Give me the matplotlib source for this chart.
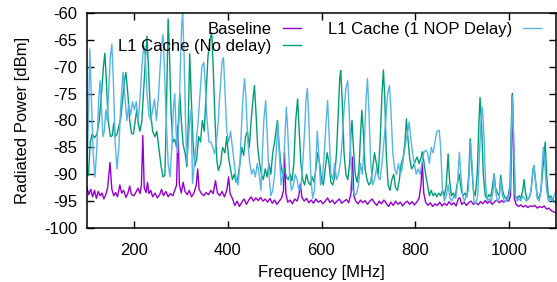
import matplotlib
matplotlib.use("Agg")
import matplotlib.pyplot as plt

plt.rcParams['font.family'] = ['Liberation Sans', 'DejaVu Sans']
plt.rcParams['font.size'] = 12
plt.rcParams['axes.unicode_minus'] = False

# Baseline (frequency MHz, dBm)
baseline = [
    (100, -92.5), (104, -93.8), (108, -92.8), (112, -94.2), (116, -93.0), (120, -94.5),
    (124, -93.2), (128, -94.0), (132, -93.5), (136, -94.6), (140, -93.8), (144, -92.5),
    (149, -87.8), (153, -92.8), (157, -94.0), (161, -93.4), (165, -94.2), (170, -92.0),
    (174, -93.5), (178, -93.0), (183, -94.3), (187, -93.6), (191, -92.2), (195, -93.8),
    (200, -94.0), (205, -93.2), (209, -92.6), (213, -93.6), (216, -92.0), (219, -82.8),
    (222, -92.5), (226, -93.4), (229, -91.5), (232, -93.6), (236, -93.0), (240, -94.2),
    (245, -93.5), (250, -94.4), (255, -93.8), (259, -92.8), (263, -94.0), (268, -93.2),
    (273, -94.2), (278, -93.6), (283, -94.0), (287, -93.0), (291, -92.0), (294, -81.0),
    (297, -91.8), (301, -93.5), (305, -91.5), (309, -93.2), (314, -93.8), (318, -93.0),
    (323, -94.2), (328, -93.5), (333, -92.0), (336, -89.0), (339, -92.8), (344, -93.6),
    (349, -94.0), (354, -93.4), (359, -93.8), (364, -93.0), (369, -93.6), (374, -91.2),
    (378, -93.5), (383, -94.0), (388, -93.2), (393, -94.2), (398, -93.0), (402, -90.5),
    (405, -93.6), (410, -94.5), (415, -95.8), (420, -95.0), (425, -96.0), (430, -95.2),
    (435, -94.6), (440, -95.6), (445, -94.8), (450, -94.2), (455, -95.0), (460, -94.4),
    (465, -94.9), (470, -94.3), (475, -95.0), (480, -94.6), (485, -95.2), (490, -94.5),
    (495, -95.4), (500, -94.8), (505, -95.6), (510, -95.0), (515, -94.4), (519, -93.0),
    (521, -86.0), (524, -93.6), (528, -95.2), (533, -94.8), (538, -95.5), (543, -94.6),
    (548, -95.0), (552, -93.8), (555, -91.8), (558, -94.2), (563, -95.0), (568, -94.5),
    (573, -95.3), (578, -94.8), (583, -95.4), (588, -94.6), (593, -95.2), (598, -94.9),
    (603, -95.5), (608, -95.0), (613, -94.4), (618, -95.3), (623, -94.8), (628, -95.5),
    (633, -95.0), (638, -94.6), (643, -95.4), (648, -95.0), (653, -94.7), (658, -95.3),
    (663, -93.5), (666, -86.8), (669, -94.0), (673, -95.0), (678, -95.5), (683, -94.8),
    (688, -95.3), (693, -94.9), (698, -95.6), (703, -95.0), (708, -94.6), (713, -95.3),
    (718, -95.8), (723, -95.0), (728, -95.5), (733, -94.8), (738, -95.4), (743, -96.0),
    (748, -95.2), (753, -95.8), (758, -95.0), (763, -95.6), (768, -95.2), (773, -95.9),
    (778, -95.3), (783, -95.0), (788, -95.6), (793, -95.1), (798, -95.7), (803, -95.2),
    (808, -94.5), (812, -92.0), (815, -88.0), (818, -93.5), (822, -95.2), (827, -95.8),
    (832, -95.3), (837, -96.0), (842, -95.5), (847, -95.8), (852, -95.2), (857, -95.9),
    (862, -95.4), (867, -95.8), (872, -95.1), (877, -95.7), (882, -95.3), (887, -95.9),
    (892, -94.5), (895, -94.4), (899, -95.6), (904, -95.2), (909, -95.8), (914, -95.3),
    (919, -95.0), (924, -95.6), (929, -95.2), (934, -95.7), (939, -95.1), (944, -95.5),
    (949, -94.9), (954, -95.4), (959, -95.0), (964, -95.6), (969, -95.1), (974, -94.8),
    (979, -95.3), (984, -94.9), (989, -95.2), (994, -94.8), (999, -95.0), (1003, -94.0),
    (1007, -75.0), (1011, -94.5), (1015, -95.6), (1020, -96.0), (1025, -95.7), (1030, -96.1),
    (1035, -95.8), (1040, -96.2), (1045, -95.9), (1050, -96.0), (1055, -95.8), (1060, -96.3),
    (1065, -96.0), (1070, -96.2), (1075, -95.9), (1080, -96.5), (1085, -96.3), (1090, -96.8),
    (1095, -97.0), (1100, -97.2),
]

# L1 Cache (No delay)
no_delay = [
    (100, -89.5), (103, -90.2), (107, -84), (111, -82.5), (116, -83.2), (121, -82.6),
    (126, -80), (131, -75), (135, -70), (138, -67.5), (141, -72), (145, -80), (150, -83),
    (154, -82.8), (157, -80.5), (160, -83), (164, -82.6), (168, -81), (172, -79.5),
    (176, -76), (180, -72.5), (183, -71.1), (187, -75), (191, -80), (195, -82.4),
    (199, -82.5), (203, -80), (206, -78), (209, -80.5), (213, -82), (217, -80), (221, -74),
    (225, -68), (228, -64.3), (231, -70), (235, -78), (240, -82), (245, -83), (249, -82),
    (253, -85), (258, -88.5), (262, -90.5), (266, -90.2), (269, -80), (271, -70),
    (273, -61.1), (276, -68), (279, -78), (283, -84), (287, -83.5), (291, -85), (295, -80),
    (298, -75), (301, -80), (305, -84.5), (309, -86), (313, -88.6), (316, -80), (319, -67.6),
    (322, -75), (326, -84), (330, -88.5), (334, -87), (338, -83), (342, -84), (346, -80),
    (350, -82), (354, -75), (358, -68), (362, -65), (366, -63.7), (369, -70), (373, -80),
    (377, -87.5), (380, -89.3), (385, -88), (389, -85), (394, -86), (398, -83), (402, -87),
    (406, -89), (410, -91), (414, -90), (418, -91.5), (422, -90.5), (426, -88), (430, -85),
    (434, -86.5), (438, -83), (442, -82), (446, -85), (450, -80), (454, -76), (457, -73.5),
    (460, -78), (464, -85), (468, -88), (472, -90), (476, -91), (480, -89), (484, -90.5),
    (488, -88), (492, -90), (496, -86), (500, -84), (503, -82), (506, -80), (509, -84),
    (513, -88), (517, -90), (521, -89), (525, -90.5), (529, -91), (533, -90), (537, -91.2),
    (541, -88), (545, -80), (549, -76), (552, -81), (556, -88), (560, -91), (564, -92),
    (568, -90), (572, -91.5), (576, -92), (580, -90.5), (584, -91.5), (588, -89), (592, -86),
    (596, -88), (600, -91), (604, -92), (608, -89), (612, -86), (616, -88), (620, -91.5),
    (624, -92), (628, -90.5), (632, -86), (636, -78), (639, -72), (641, -70.7), (644, -76),
    (648, -86), (652, -90), (656, -91), (660, -88), (663, -82), (665, -80), (668, -85),
    (672, -90), (676, -91.5), (680, -89), (683, -83), (686, -78.1), (689, -82), (693, -89),
    (697, -91), (701, -92), (705, -91.5), (709, -89), (713, -86), (717, -88), (721, -90),
    (725, -84), (729, -75), (732, -70.6), (735, -76), (738, -86), (742, -92), (746, -93),
    (750, -91), (754, -90), (758, -92.5), (762, -93), (766, -91), (770, -88), (774, -87),
    (778, -84), (781, -79.7), (784, -83), (788, -87), (792, -89), (796, -88.5), (800, -87.5),
    (804, -86.8), (808, -88), (812, -87), (815, -85.8), (818, -87.5), (822, -90), (826, -92),
    (830, -94), (834, -93), (838, -94), (842, -93.5), (846, -94.2), (850, -93.5), (854, -94),
    (858, -93), (862, -94), (866, -92), (870, -86.2), (873, -91), (877, -94), (881, -93.5),
    (885, -94.2), (889, -92), (894, -90), (898, -93), (902, -94), (906, -93.5), (910, -94.2),
    (914, -90), (917, -83.4), (920, -88), (924, -93), (928, -94), (932, -90), (935, -82),
    (938, -75.7), (941, -80), (945, -90), (949, -94), (953, -94.5), (957, -93.8), (961, -94.2),
    (965, -92), (968, -89.9), (971, -92.5), (975, -93.5), (979, -94), (982, -90.2), (986, -93),
    (990, -94.2), (994, -94.5), (998, -94), (1002, -92), (1005, -80), (1007, -75.2),
    (1010, -85), (1013, -94), (1017, -94.5), (1021, -94), (1025, -94.5), (1029, -93),
    (1032, -91), (1035, -93.5), (1039, -94.8), (1043, -94.3), (1047, -93), (1051, -89),
    (1053, -88.5), (1056, -91), (1060, -94), (1064, -94.5), (1068, -93), (1072, -89),
    (1077, -84), (1080, -90), (1084, -94.5), (1088, -94), (1092, -94.5), (1096, -95),
    (1100, -95.5),
]

# L1 Cache (1 NOP Delay)
one_nop = [
    (100, -90), (103, -80), (106, -66.7), (109, -75), (113, -86), (117, -90.5), (121, -85),
    (125, -76), (128, -72.6), (131, -78), (134, -83), (137, -82), (140, -78), (143, -80),
    (146, -75), (150, -68), (153, -65.8), (156, -72), (160, -84), (164, -89), (168, -85),
    (172, -77), (177, -71), (181, -76), (185, -80), (189, -77), (193, -79), (197, -76.5),
    (201, -78), (205, -76.5), (209, -80), (213, -76), (217, -70), (221, -66), (224, -68),
    (228, -75), (232, -79), (236, -80), (240, -78), (244, -76), (248, -80), (252, -76),
    (256, -70), (259, -66), (262, -64), (265, -70), (269, -80), (273, -88), (277, -90.5),
    (281, -85), (284, -78), (287, -75), (290, -82), (293, -86), (296, -80), (299, -70),
    (302, -62), (304, -60), (307, -68), (310, -80), (313, -88), (316, -84), (319, -80),
    (322, -78), (325, -91.7), (329, -88), (333, -84), (337, -80), (341, -75), (345, -70),
    (349, -69.2), (352, -73), (356, -80), (360, -84), (364, -84), (368, -85), (372, -86.2),
    (376, -84), (380, -80), (384, -74), (388, -69), (391, -68.3), (394, -74), (398, -82),
    (402, -84), (406, -82), (410, -85), (414, -88), (418, -91), (422, -92), (426, -88),
    (430, -80), (433, -75), (436, -72.2), (439, -76), (443, -84), (447, -88), (451, -90),
    (455, -89), (459, -90.5), (463, -88), (467, -90), (471, -93), (474, -86), (477, -80),
    (481, -76.3), (484, -82), (488, -90), (492, -94), (496, -93), (500, -90), (504, -85),
    (507, -80.3), (510, -86), (514, -92), (518, -90), (521, -85), (525, -77.5), (528, -82),
    (532, -90), (536, -93), (540, -92), (544, -90), (548, -91), (552, -93), (556, -92.5),
    (560, -88), (564, -82), (567, -76), (570, -74), (573, -80), (577, -90), (581, -94.5),
    (585, -93), (589, -86), (591, -82), (594, -86), (598, -92), (602, -91), (606, -86),
    (610, -80), (613, -76.3), (616, -82), (620, -90), (624, -91), (628, -88), (632, -91),
    (636, -90), (640, -88), (644, -84), (648, -78), (652, -74), (656, -72.6), (659, -78),
    (663, -88), (667, -93), (671, -94), (675, -93.5), (679, -92), (683, -88), (687, -90),
    (691, -85), (695, -76), (698, -72.2), (701, -78), (705, -88), (709, -92), (713, -91),
    (717, -89), (721, -90.5), (725, -91), (729, -88), (733, -84), (737, -80), (741, -75),
    (745, -73.5), (748, -78), (752, -86), (756, -89), (760, -90), (764, -88), (768, -90),
    (772, -89), (776, -86), (780, -84), (784, -82), (787, -80.3), (790, -83), (794, -86),
    (798, -88), (802, -90), (806, -89), (810, -90), (814, -88), (818, -86), (822, -85.5),
    (826, -86), (830, -88), (834, -85), (838, -86), (842, -84), (846, -82), (851, -81.8),
    (854, -85), (858, -93), (862, -95), (866, -94), (870, -92), (874, -94.5), (878, -95),
    (882, -94), (886, -94.5), (890, -92), (894, -85.9), (897, -90), (901, -94), (905, -95),
    (909, -94), (913, -93), (918, -84), (921, -88), (925, -95), (929, -95.5), (933, -94),
    (937, -86), (940, -80), (943, -77.5), (946, -82), (950, -92), (954, -95), (958, -94.5),
    (962, -95), (966, -93), (968, -90), (971, -93), (975, -95), (979, -94.5), (982, -91),
    (986, -94), (990, -95), (994, -95), (998, -94.5), (1002, -93), (1005, -82), (1007, -75.5),
    (1010, -84), (1013, -94), (1017, -95), (1021, -94.5), (1025, -95), (1029, -94),
    (1033, -94.5), (1037, -95), (1041, -94.5), (1045, -94), (1049, -91), (1053, -88.3),
    (1056, -91), (1060, -94.5), (1064, -95), (1068, -93), (1070, -89), (1073, -85),
    (1076, -88), (1080, -93), (1084, -95), (1088, -94.5), (1092, -95), (1096, -94),
    (1100, -93),
]

x_ticks = [200, 400, 600, 800, 1000]
y_ticks = [-100, -95, -90, -85, -80, -75, -70, -65, -60]

fig = plt.figure(figsize=(5.57, 2.82), dpi=100)
ax = fig.add_axes([87 / 557, 54 / 282, 469 / 557, 215 / 282])

bf, bd = zip(*baseline)
nf, nd = zip(*no_delay)
of, od = zip(*one_nop)
ax.plot(bf, bd, color='#9400d3', lw=1.0, label='Baseline')
ax.plot(nf, nd, color='#009e73', lw=1.0, label='L1 Cache (No delay)')
ax.plot(of, od, color='#56b4e9', lw=1.0, label='L1 Cache (1 NOP Delay)')

ax.set_xlim(100, 1100)
ax.set_ylim(-100, -60)
ax.set_xticks(x_ticks)
ax.set_yticks(y_ticks)
ax.tick_params(direction='in', top=True, right=True, length=5, width=1)
ax.tick_params(axis='x', pad=11)
ax.tick_params(axis='y', pad=7)
for s in ax.spines.values():
    s.set_linewidth(1.1)

ax.set_xlabel('Frequency [MHz]', labelpad=5)
ax.set_ylabel('Radiated Power [dBm]', labelpad=10)

ax.legend(loc='upper right', bbox_to_anchor=(541 / 557, 1 - 22 / 282),
          bbox_transform=fig.transFigure, ncol=2, markerfirst=False,
          frameon=False, borderpad=0, borderaxespad=0, handlelength=1.1,
          handletextpad=0.65, columnspacing=1.6, labelspacing=0.1)

fig.savefig('out.png', dpi=100)
